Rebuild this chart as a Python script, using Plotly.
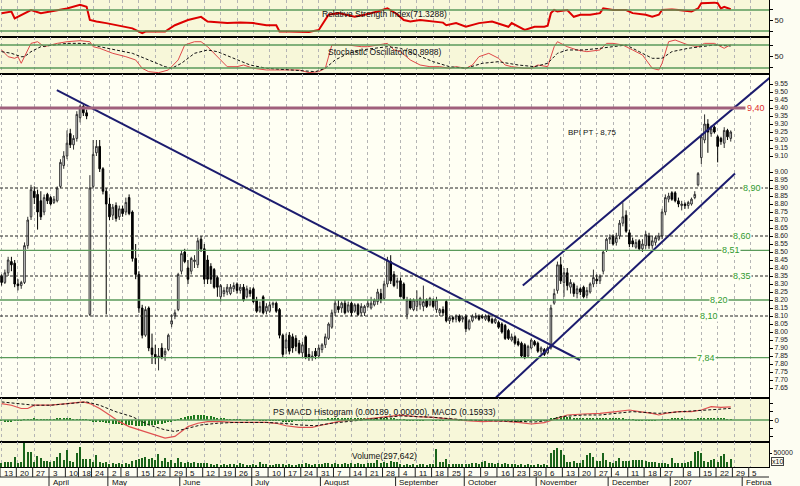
import plotly.graph_objects as go
from plotly.subplots import make_subplots
import pandas as pd

# trading calendar, session 0 = 13 Mar 2006
holidays = ["2006-04-14", "2006-04-17", "2006-05-01", "2006-12-25", "2006-12-26", "2007-01-01"]
days = [d for d in pd.bdate_range("2006-03-13", "2007-02-09") if d.strftime("%Y-%m-%d") not in holidays]
sess_of = {d.strftime("%Y-%m-%d"): i for i, d in enumerate(days)}

week_ticks = ["2006-03-13", "2006-03-20", "2006-03-27", "2006-04-03", "2006-04-10", "2006-04-18", "2006-04-24",
              "2006-05-02", "2006-05-08", "2006-05-15", "2006-05-22", "2006-05-29", "2006-06-05", "2006-06-12",
              "2006-06-19", "2006-06-26", "2006-07-03", "2006-07-10", "2006-07-17", "2006-07-24", "2006-07-31",
              "2006-08-07", "2006-08-14", "2006-08-21", "2006-08-28", "2006-09-04", "2006-09-11", "2006-09-18",
              "2006-09-25", "2006-10-02", "2006-10-09", "2006-10-16", "2006-10-23", "2006-10-30", "2006-11-06",
              "2006-11-13", "2006-11-20", "2006-11-27", "2006-12-04", "2006-12-11", "2006-12-18", "2006-12-27",
              "2007-01-08", "2007-01-15", "2007-01-22", "2007-01-29", "2007-02-05"]
month_starts = ["2006-04-03", "2006-05-02", "2006-06-01", "2006-07-03", "2006-08-01", "2006-09-01",
                "2006-10-02", "2006-11-01", "2006-12-01", "2007-01-02", "2007-02-01"]
month_names = ["April", "May", "June", "July", "August", "September", "October", "November", "December",
               "2007", "Februa"]

# daily prices (BPI)
opens = [8.35, 8.31, 8.37, 8.44, 8.43, 8.30, 8.29, 8.31, 8.54, 8.72,
         8.88, 8.86, 8.82, 8.75, 8.86, 8.84, 8.81, 8.82, 8.91, 9.04,
         9.10, 9.24, 9.17, 9.21, 9.34, 9.41, 9.37, 8.11, 8.91, 9.12,
         9.16, 9.02, 8.88, 8.80, 8.73, 8.79, 8.72, 8.77, 8.75, 8.84,
         8.75, 8.46, 8.36, 8.15, 7.98, 8.15, 7.90, 7.86, 7.84, 7.90,
         7.86, 7.89, 8.05, 8.10, 8.14, 8.38, 8.50, 8.40, 8.38, 8.44,
         8.42, 8.58, 8.52, 8.45, 8.41, 8.39, 8.34, 8.22, 8.24, 8.25,
         8.24, 8.27, 8.30, 8.26, 8.28, 8.22, 8.26, 8.27, 8.20, 8.13,
         8.22, 8.13, 8.13, 8.17, 8.18, 8.14, 7.98, 7.90, 7.98, 7.97,
         7.96, 7.93, 7.87, 7.97, 7.86, 7.84, 7.88, 7.85, 7.89, 7.92,
         7.96, 8.03, 8.12, 8.16, 8.15, 8.18, 8.13, 8.18, 8.13, 8.17,
         8.12, 8.12, 8.16, 8.15, 8.17, 8.19, 8.24, 8.21, 8.30, 8.44,
         8.36, 8.31, 8.32, 8.30, 8.11, 8.20, 8.14, 8.16, 8.17, 8.16,
         8.20, 8.17, 8.20, 8.14, 8.12, 8.14, 8.19, 8.07, 8.09, 8.08,
         8.10, 8.08, 8.10, 8.02, 8.07, 8.09, 8.10, 8.10, 8.08, 8.10,
         8.08, 8.06, 8.06, 8.05, 8.04, 8.01, 7.95, 7.97, 7.94, 7.93,
         7.92, 7.85, 7.90, 7.94, 7.93, 7.88, 7.89, 7.87, 7.90, 8.18,
         8.26, 8.42, 8.31, 8.37, 8.28, 8.30, 8.24, 8.27, 8.28, 8.23,
         8.25, 8.30, 8.33, 8.32, 8.38, 8.51, 8.58, 8.60, 8.56, 8.60,
         8.68, 8.73, 8.62, 8.57, 8.53, 8.57, 8.52, 8.54, 8.60, 8.54,
         8.56, 8.58, 8.60, 8.75, 8.83, 8.87, 8.87, 8.82, 8.79, 8.80,
         8.79, 8.80, 8.84, 8.92, 9.09, 9.20, 9.30, 9.24, 9.28, 9.22,
         9.21, 9.18, 9.26, 9.21]
highs = [8.36, 8.39, 8.47, 8.47, 8.45, 8.33, 8.32, 8.56, 8.72, 8.92,
         8.91, 8.89, 8.88, 8.86, 8.87, 8.85, 8.85, 8.91, 9.08, 9.13,
         9.26, 9.27, 9.23, 9.38, 9.42, 9.42, 9.39, 8.98, 9.20, 9.20,
         9.20, 9.03, 8.90, 8.84, 8.80, 8.81, 8.79, 8.79, 8.84, 8.86,
         8.76, 8.55, 8.38, 8.17, 8.16, 8.16, 7.99, 7.92, 7.90, 7.93,
         7.90, 7.99, 8.11, 8.14, 8.37, 8.51, 8.52, 8.45, 8.47, 8.48,
         8.59, 8.60, 8.55, 8.48, 8.43, 8.40, 8.35, 8.30, 8.28, 8.30,
         8.30, 8.31, 8.31, 8.30, 8.30, 8.29, 8.28, 8.28, 8.22, 8.19,
         8.23, 8.18, 8.19, 8.19, 8.19, 8.15, 7.99, 7.99, 8.00, 7.99,
         7.98, 7.95, 7.94, 7.98, 7.90, 7.88, 7.90, 7.92, 7.93, 7.99,
         8.06, 8.14, 8.20, 8.20, 8.19, 8.20, 8.19, 8.19, 8.18, 8.18,
         8.18, 8.17, 8.20, 8.22, 8.21, 8.27, 8.27, 8.32, 8.47, 8.48,
         8.38, 8.34, 8.34, 8.31, 8.22, 8.21, 8.21, 8.26, 8.22, 8.29,
         8.21, 8.22, 8.21, 8.22, 8.15, 8.16, 8.20, 8.10, 8.10, 8.11,
         8.11, 8.10, 8.11, 8.08, 8.11, 8.12, 8.11, 8.11, 8.11, 8.11,
         8.09, 8.09, 8.07, 8.06, 8.05, 8.02, 7.99, 7.98, 7.96, 7.94,
         7.93, 7.92, 7.96, 7.95, 7.94, 7.91, 7.90, 7.91, 8.17, 8.27,
         8.44, 8.47, 8.40, 8.40, 8.33, 8.31, 8.29, 8.28, 8.29, 8.28,
         8.31, 8.39, 8.36, 8.36, 8.51, 8.59, 8.61, 8.61, 8.62, 8.70,
         8.81, 8.76, 8.64, 8.59, 8.58, 8.58, 8.58, 8.63, 8.62, 8.60,
         8.60, 8.62, 8.77, 8.86, 8.87, 8.88, 8.88, 8.84, 8.82, 8.81,
         8.82, 8.84, 8.88, 9.00, 9.24, 9.36, 9.33, 9.29, 9.29, 9.23,
         9.22, 9.28, 9.27, 9.26]
lows = [8.29, 8.30, 8.35, 8.38, 8.28, 8.26, 8.27, 8.30, 8.52, 8.70,
        8.80, 8.64, 8.70, 8.73, 8.80, 8.79, 8.80, 8.81, 8.90, 9.02,
        9.08, 9.15, 9.14, 9.19, 9.31, 9.35, 9.33, 8.10, 8.90, 9.10,
        9.00, 8.86, 8.11, 8.70, 8.70, 8.69, 8.70, 8.72, 8.73, 8.73,
        8.44, 8.33, 8.12, 7.96, 7.97, 7.88, 7.80, 7.80, 7.76, 7.83,
        7.82, 7.88, 8.03, 8.08, 8.13, 8.36, 8.43, 8.30, 8.36, 8.40,
        8.40, 8.50, 8.30, 8.30, 8.30, 8.27, 8.22, 8.19, 8.22, 8.23,
        8.23, 8.25, 8.24, 8.24, 8.19, 8.21, 8.22, 8.18, 8.12, 8.12,
        8.11, 8.11, 8.12, 8.15, 8.12, 7.96, 7.84, 7.86, 7.86, 7.87,
        7.88, 7.86, 7.84, 7.83, 7.82, 7.82, 7.83, 7.84, 7.87, 7.90,
        7.95, 8.02, 8.10, 8.12, 8.12, 8.11, 8.12, 8.10, 8.12, 8.10,
        8.10, 8.10, 8.15, 8.14, 8.16, 8.17, 8.18, 8.20, 8.28, 8.30,
        8.28, 8.27, 8.22, 8.20, 8.08, 8.14, 8.13, 8.13, 8.14, 8.13,
        8.15, 8.16, 8.15, 8.12, 8.10, 8.10, 8.06, 8.05, 8.06, 8.06,
        8.06, 8.06, 8.00, 8.01, 8.06, 8.08, 8.07, 8.08, 8.07, 8.06,
        8.05, 8.05, 8.02, 7.99, 7.95, 7.95, 7.94, 7.92, 7.91, 7.84,
        7.83, 7.84, 7.89, 7.91, 7.87, 7.86, 7.85, 7.86, 7.89, 8.17,
        8.24, 8.30, 8.22, 8.26, 8.24, 8.22, 8.21, 8.23, 8.21, 8.21,
        8.24, 8.28, 8.30, 8.30, 8.36, 8.50, 8.55, 8.54, 8.54, 8.58,
        8.66, 8.62, 8.53, 8.53, 8.52, 8.51, 8.50, 8.52, 8.52, 8.52,
        8.54, 8.57, 8.58, 8.73, 8.81, 8.82, 8.81, 8.78, 8.76, 8.77,
        8.77, 8.79, 8.83, 8.91, 9.05, 9.18, 9.12, 9.22, 9.24, 9.06,
        9.17, 9.15, 9.20, 9.19]
closes = [8.31, 8.37, 8.45, 8.42, 8.30, 8.29, 8.31, 8.54, 8.70, 8.89,
          8.84, 8.75, 8.72, 8.84, 8.82, 8.80, 8.83, 8.90, 9.06, 9.10,
          9.18, 9.17, 9.21, 9.36, 9.41, 9.37, 9.35, 8.90, 9.11, 9.16,
          9.02, 8.88, 8.80, 8.72, 8.78, 8.71, 8.77, 8.74, 8.81, 8.74,
          8.46, 8.36, 8.15, 7.98, 8.14, 7.90, 7.86, 7.84, 7.85, 7.84,
          7.88, 7.98, 8.07, 8.12, 8.36, 8.49, 8.44, 8.33, 8.46, 8.45,
          8.57, 8.52, 8.33, 8.33, 8.33, 8.28, 8.28, 8.29, 8.26, 8.28,
          8.28, 8.29, 8.26, 8.28, 8.20, 8.27, 8.24, 8.19, 8.13, 8.16,
          8.12, 8.16, 8.17, 8.18, 8.13, 7.98, 7.86, 7.95, 7.88, 7.90,
          7.91, 7.87, 7.92, 7.84, 7.84, 7.85, 7.85, 7.90, 7.92, 7.97,
          8.05, 8.12, 8.18, 8.14, 8.18, 8.12, 8.17, 8.12, 8.17, 8.11,
          8.16, 8.16, 8.18, 8.18, 8.20, 8.25, 8.20, 8.30, 8.45, 8.32,
          8.29, 8.32, 8.22, 8.21, 8.20, 8.15, 8.20, 8.20, 8.21, 8.19,
          8.16, 8.21, 8.16, 8.20, 8.14, 8.12, 8.07, 8.09, 8.08, 8.10,
          8.07, 8.09, 8.02, 8.07, 8.10, 8.10, 8.08, 8.09, 8.10, 8.07,
          8.06, 8.08, 8.03, 8.00, 7.96, 7.96, 7.97, 7.93, 7.92, 7.85,
          7.84, 7.91, 7.95, 7.92, 7.88, 7.90, 7.86, 7.90, 8.15, 8.24,
          8.42, 8.32, 8.37, 8.29, 8.31, 8.24, 8.27, 8.25, 8.22, 8.26,
          8.30, 8.34, 8.32, 8.35, 8.50, 8.58, 8.59, 8.55, 8.59, 8.68,
          8.72, 8.63, 8.55, 8.55, 8.56, 8.52, 8.55, 8.61, 8.54, 8.57,
          8.59, 8.60, 8.75, 8.84, 8.85, 8.83, 8.82, 8.80, 8.80, 8.79,
          8.81, 8.83, 8.86, 8.99, 9.22, 9.30, 9.25, 9.27, 9.25, 9.16,
          9.19, 9.26, 9.22, 9.25]

# volume, thousands of shares
volume_k = [140, 180, 170, 180, 360, 150, 180, 850, 540, 530,
            190, 400, 320, 210, 200, 190, 200, 360, 500, 250,
            600, 220, 180, 490, 720, 290, 280, 300, 180, 420,
            170, 150, 170, 120, 140, 110, 130, 120, 140, 120,
            210, 250, 280, 320, 350, 290, 330, 250, 460, 220,
            310, 190, 240, 150, 320, 170, 140, 180, 150, 170,
            130, 140, 160, 130, 90, 80, 100, 70, 90, 80,
            100, 90, 80, 140, 90, 80, 70, 100, 80, 170,
            90, 100, 80, 70, 90, 110, 100, 80, 90, 70,
            80, 100, 90, 140, 90, 80, 100, 110, 120, 140,
            130, 110, 150, 120, 110, 140, 100, 130, 120, 150,
            110, 120, 130, 140, 160, 250, 130, 180, 150, 210,
            170, 180, 100, 80, 90, 70, 100, 80, 110, 90,
            80, 100, 90, 640, 180, 170, 280, 110, 100, 120,
            100, 110, 90, 100, 130, 150, 120, 170, 210, 140,
            160, 120, 130, 110, 140, 100, 120, 90, 80, 100,
            80, 90, 70, 80, 90, 70, 100, 80, 500, 610,
            680, 600, 430, 180, 170, 200, 160, 150, 250, 430,
            500, 360, 200, 200, 500, 250, 180, 140, 200, 320,
            210, 230, 200, 250, 240, 260, 250, 230, 180, 190,
            170, 160, 140, 150, 100, 320, 150, 140, 150, 160,
            180, 200, 540, 570, 510, 220, 180, 250, 290, 170,
            390, 460, 180, 298]

macd_hist = [-0.010, -0.014, -0.018, -0.016, -0.012, -0.008, -0.004,
             0.004, 0.008, 0.012, 0.014, 0.012, 0.010, 0.008, 0.008, 0.010, 0.012,
             0.014, 0.016, 0.018, 0.016, 0.014, 0.012, 0.012, 0.010, 0.008, 0.006,
             -0.010, -0.014, -0.018, -0.022, -0.028, -0.034, -0.040, -0.044, -0.048,
             -0.052, -0.056, -0.060, -0.062, -0.066, -0.070, -0.072, -0.070, -0.068, -0.066,
             -0.064, -0.060, -0.054, -0.048, -0.040, -0.030, -0.020, -0.008,
             0.010, 0.024, 0.036, 0.044, 0.050, 0.056, 0.060, 0.062, 0.058, 0.052,
             0.044, 0.036, 0.028, 0.020, 0.014, 0.010, 0.006,
             0.004, 0.002, 0.002, 0.000, -0.002, 0.000, 0.002, 0.000, -0.002, -0.004,
             -0.006, -0.008, -0.008, -0.010, -0.012, -0.014, -0.016, -0.016, -0.014, -0.012,
             -0.010, -0.008, -0.006, -0.004, -0.002, 0.000, 0.004, 0.008, 0.012,
             0.016, 0.020, 0.022, 0.024, 0.024, 0.022, 0.020, 0.018, 0.018, 0.016,
             0.016, 0.014, 0.014, 0.016, 0.018, 0.020, 0.022, 0.024, 0.022, 0.018,
             0.014, 0.010,
             0.006, 0.002, -0.002, -0.004, -0.006, -0.006, -0.004, -0.002, 0.000, 0.000,
             -0.002, -0.004, -0.004, -0.002, 0.000, 0.002, 0.002, 0.000, -0.002, -0.004,
             -0.006, -0.008, -0.008, -0.006, -0.004, -0.002, 0.000, -0.002, -0.004, -0.006,
             -0.008, -0.010, -0.012, -0.014, -0.016, -0.018, -0.018, -0.016, -0.014, -0.012,
             -0.010, -0.010, -0.008, -0.006, -0.004, -0.002,
             0.016, 0.030, 0.040, 0.044, 0.042, 0.038, 0.034, 0.030, 0.026, 0.022,
             0.020, 0.018, 0.016, 0.016, 0.018, 0.020, 0.022, 0.024, 0.022, 0.020,
             0.018, 0.016, 0.014, 0.010, 0.006, 0.002, -0.002, -0.006, -0.008, -0.008,
             -0.006, -0.004, -0.002, 0.000, 0.004, 0.008, 0.012, 0.014, 0.016, 0.016,
             0.014, 0.012, 0.010, 0.010, 0.012, 0.016, 0.022, 0.028, 0.030, 0.028,
             0.024, 0.020, 0.016, 0.014, 0.012, 0.012]

# indicator lines (session number, value)
rsi_sess = [0, 3, 4, 6, 9, 12, 15, 20, 24, 26, 27, 29, 32, 35, 38, 40, 43, 44, 47, 50,
            53, 57, 61, 63, 69, 73, 77, 81, 84, 85, 88, 91, 94, 97, 100, 103, 108, 111, 115, 118,
            121, 123, 125, 128, 132, 135, 136, 139, 142, 146, 150, 155, 156, 158, 160, 163, 166, 167, 168, 169,
            170, 173, 175, 177, 180, 183, 184, 187, 191, 193, 197, 199, 201, 202, 205, 207, 211, 213, 214, 218,
            219, 220, 221, 223]
rsi_val = [64, 67, 54, 61, 70, 64, 67, 73, 80, 76, 51, 48, 45, 41, 38, 35, 26, 29, 29, 29,
           41, 51, 57, 48, 45, 46, 45, 41, 41, 29, 29, 29, 28, 32, 61, 64, 57, 61, 67, 73,
           62, 51, 48, 51, 48, 46, 41, 45, 38, 45, 48, 38, 45, 38, 32, 38, 38, 40, 64, 70,
           67, 70, 57, 61, 61, 64, 73, 70, 70, 64, 61, 57, 61, 70, 71, 70, 67, 73, 83, 84,
           83, 73, 76, 71.3]

stk_sess = [0, 2, 4, 5, 6, 7, 9, 11, 13, 15, 17, 20, 24, 27, 28, 30, 34, 38, 41, 43,
            45, 48, 51, 54, 56, 59, 61, 63, 65, 69, 72, 74, 77, 81, 84, 87, 91, 94, 97, 99,
            101, 106, 110, 112, 115, 118, 120, 122, 125, 128, 131, 134, 137, 139, 142, 144, 146, 149, 152, 154,
            156, 160, 162, 164, 167, 169, 170, 173, 176, 179, 183, 185, 187, 190, 193, 196, 199, 201, 202, 204,
            206, 210, 213, 215, 218, 221, 223]
stk_k = [67, 49.5, 45.3, 49.5, 32.2, 49.5, 84.3, 88.6, 75.6, 80, 84.3, 88.6, 91.3, 88.6, 75.6, 71.4, 58.3, 49.5, 40.9, 19.2,
         10.4, 7.8, 14.8, 40.9, 80, 88.6, 88.6, 75.6, 58.3, 23.4, 23.4, 27.8, 19.2, 14.8, 14.8, 14.8, 14.8, 7.8, 10.4, 19.2,
         80, 80, 75.6, 75.6, 80, 84.3, 67, 62.6, 40.9, 27.8, 23.4, 23.4, 19.2, 23.4, 19.2, 27.8, 49.5, 58.3, 45.3, 27.8,
         23.4, 19.2, 19.2, 27.8, 23.4, 75.6, 88.6, 75.6, 67, 62.6, 67, 84.3, 84.3, 80, 67, 53.9, 19.2, 14.8, 32.2, 88.6,
         93, 80, 75.6, 84.3, 84.3, 71.4, 80.9]
std_sess = [0, 3, 6, 7, 9, 12, 16, 20, 24, 27, 30, 35, 40, 45, 50, 52, 55, 59, 63, 66,
            71, 76, 81, 86, 91, 96, 99, 102, 106, 110, 114, 118, 122, 127, 132, 137, 142, 147, 152, 158,
            163, 167, 170, 173, 178, 183, 188, 191, 195, 199, 202, 205, 210, 214, 218, 223]
stk_d = [62.6, 58.3, 49.5, 49.5, 62.6, 75.6, 80, 84.3, 84.3, 82.6, 75.6, 67, 58.3, 40.9, 23.4, 19.2, 32.2, 58.3, 67, 62.6,
         45.3, 27.8, 19.2, 16.5, 13, 10.4, 19.2, 40.9, 58.3, 67, 71.4, 75.6, 71.4, 53.9, 36.5, 23.4, 19.2, 32.2, 36.5, 27.8,
         23.4, 32.2, 58.3, 67, 67, 71.4, 75.6, 80, 62.6, 45.3, 45.3, 62.6, 71.4, 75.6, 80, 77.4]

macd_sess = [0, 3, 6, 8, 10, 15, 20, 25, 27, 30, 33, 36, 39, 42, 45, 48, 50, 53, 55, 57,
             60, 63, 67, 71, 77, 81, 84, 87, 91, 95, 97, 101, 104, 110, 114, 118, 122, 127, 132, 137,
             142, 147, 152, 158, 162, 166, 168, 170, 173, 178, 183, 188, 192, 195, 199, 201, 203, 207, 211, 214,
             217, 220, 223]
macd_val = [0.20, 0.18, 0.14, 0.14, 0.18, 0.18, 0.20, 0.22, 0.20, 0.14, 0.06, -0.02, -0.08, -0.12, -0.16, -0.20, -0.22, -0.20, -0.14, -0.08,
            -0.04, -0.02, -0.02, -0.03, -0.03, -0.03, -0.04, -0.07, -0.09, -0.09, -0.07, -0.04, -0.01, 0.006, 0.02, 0.04, 0.06, 0.04, 0.033, 0.008,
            -0.008, -0.02, -0.012, -0.028, -0.049, -0.033, -0.008, 0.02, 0.061, 0.073, 0.081, 0.102, 0.122, 0.102, 0.081, 0.061, 0.081, 0.102, 0.102, 0.122,
            0.163, 0.155, 0.159]
sig_sess = [0, 5, 10, 15, 20, 26, 30, 35, 40, 45, 50, 53, 57, 61, 66, 71, 81, 86, 91, 96,
            101, 107, 112, 122, 132, 142, 152, 163, 167, 171, 178, 183, 193, 201, 208, 214, 219, 223]
sig_val = [0.22, 0.20, 0.18, 0.18, 0.20, 0.22, 0.18, 0.10, 0.04, -0.06, -0.12, -0.14, -0.10, -0.06, -0.04, -0.03, -0.03, -0.04, -0.06, -0.07,
           -0.04, -0.01, 0.008, 0.05, 0.033, 0.0, -0.008, -0.024, -0.008, 0.04, 0.061, 0.061, 0.102, 0.081, 0.102, 0.114, 0.130, 0.142]

# drawn trend lines (session, price)
down_sess, down_px = [16.9, 176.9], [9.512, 7.825]
chan_hi_sess, chan_hi_px = [159.4, 235.0], [8.29, 9.59]
chan_lo_sess, chan_lo_px = [151.2, 224.3], [7.59, 8.99]

# horizontal levels
levels = [9.40, 8.90, 8.60, 8.51, 8.35, 8.20, 8.10, 7.84]
level_text = ["9,40", "8,90", "8,60", "8,51", "8,35", "8,20", "8,10", "7,84"]
level_kind = ["top", "dash", "dash", "green", "dash", "green", "dash", "green"]

price_ticks = [7.65, 7.70, 7.75, 7.80, 7.85, 7.90, 7.95, 8.00, 8.05, 8.10, 8.15, 8.20, 8.25, 8.30, 8.35, 8.40,
               8.45, 8.50, 8.55, 8.60, 8.65, 8.70, 8.75, 8.80, 8.85, 8.90, 8.95, 9.00, 9.10, 9.15, 9.20, 9.25,
               9.30, 9.35, 9.40, 9.45, 9.50, 9.55]

for arr in (opens, highs, lows, closes, volume_k, macd_hist):
    assert len(arr) == 224, len(arr)

sess = list(range(len(closes)))
week_sess = [sess_of[d] for d in week_ticks]

GREEN = "#5a9a5a"
BG_IND = "#f7f7d9"
BG_MAIN = "#fffff3"
FONT = "Liberation Sans, Arial, sans-serif"

fig = make_subplots(rows=5, cols=1, shared_xaxes=True, vertical_spacing=0,
                    row_heights=[37, 37, 324, 44, 25])

# RSI
fig.add_trace(go.Scatter(x=rsi_sess, y=rsi_val, mode="lines", line=dict(color="#dd0000", width=2)), row=1, col=1)
# Stochastic
fig.add_trace(go.Scatter(x=stk_sess, y=stk_k, mode="lines", line=dict(color="#e04848", width=1)), row=2, col=1)
fig.add_trace(go.Scatter(x=std_sess, y=stk_d, mode="lines", line=dict(color="#111111", width=1, dash="3px,2px")), row=2, col=1)
# price
fig.add_trace(go.Candlestick(x=sess, open=opens, high=highs, low=lows, close=closes, whiskerwidth=0,
                             increasing=dict(line=dict(color="#303030", width=1), fillcolor="#ffffff"),
                             decreasing=dict(line=dict(color="#000000", width=1), fillcolor="#000000")),
              row=3, col=1)
for xs, ys in ((down_sess, down_px), (chan_hi_sess, chan_hi_px), (chan_lo_sess, chan_lo_px)):
    fig.add_trace(go.Scatter(x=xs, y=ys, mode="lines", line=dict(color="#1c1c6e", width=2)), row=3, col=1)
# MACD
fig.add_trace(go.Bar(x=sess, y=macd_hist, width=0.4, marker=dict(color="#1f7a1f", line=dict(width=0))), row=4, col=1)
fig.add_trace(go.Scatter(x=macd_sess, y=macd_val, mode="lines", line=dict(color="#e05050", width=1.2)), row=4, col=1)
fig.add_trace(go.Scatter(x=sig_sess, y=sig_val, mode="lines", line=dict(color="#111111", width=1, dash="3px,2px")), row=4, col=1)
# volume
fig.add_trace(go.Bar(x=sess, y=volume_k, width=0.4, marker=dict(color="#1a641a", line=dict(width=0))), row=5, col=1)

# reference lines in indicator panels
for r, vals in ((1, [70, 30]), (2, [80, 20]), (4, [0])):
    for v in vals:
        fig.add_hline(y=v, line=dict(color=GREEN, width=1.5), row=r, col=1)

# price levels
for v, t, k, lx in zip(levels, level_text, level_kind, [230.6, 229.6, 226.3, 223.0, 226.3, 219.4, 216.3, 215.3]):
    if k == "top":
        fig.add_shape(type="line", x0=-1, x1=227.5, y0=v, y1=v, xref="x3", yref="y3",
                      line=dict(color="#a0607c", width=3))
        col = "#e03030"
    elif k == "green":
        fig.add_hline(y=v, line=dict(color=GREEN, width=1.3), row=3, col=1)
        col = "#2f9a2f"
    else:
        fig.add_hline(y=v, line=dict(color="#222222", width=1, dash="3px,2px"), row=3, col=1)
        col = "#2f9a2f"
    fig.add_annotation(x=lx, y=v, xref="x3", yref="y3", text=t, showarrow=False,
                       font=dict(size=9, color=col, family=FONT), bgcolor=BG_MAIN, borderpad=0)

fig.add_annotation(x=172.5, y=9.245, xref="x3", yref="y3", text="BPI PT - 8,75", showarrow=False,
                   xanchor="left", font=dict(size=8, color="#111111", family=FONT))

# panel backgrounds
for r in (1, 2, 4, 5):
    sfx = "" if r == 1 else str(r)
    fig.add_shape(type="rect", xref=f"x{sfx} domain", yref=f"y{sfx} domain", x0=0, x1=1, y0=0, y1=1,
                  fillcolor=BG_IND, line=dict(width=0), layer="below")

# panel titles
titles = [(1, "Relative Strength Index(71.3288)", 0.80), (2, "Stochastic Oscillator(80.8988)", 0.78),
          (4, "PS MACD Histogram (0.00189, 0.00000), MACD (0.15933)", 0.84), (5, "Volume(297,642)", 0.74)]
for r, t, yy in titles:
    sfx = "" if r == 1 else str(r)
    fig.add_annotation(x=0.5, y=yy, xref=f"x{sfx} domain", yref=f"y{sfx} domain", text=t, showarrow=False,
                       font=dict(size=8.5, color="#111111", family=FONT))

# bottom time scale
H = 467.0
for d, s in zip(week_ticks, week_sess):
    fig.add_annotation(x=s, y=0, xref="x5", yref="paper", text=str(int(d[-2:])), showarrow=False,
                       xanchor="left", yanchor="top", yshift=0,
                       font=dict(size=8, color="#111111", family=FONT))
    fig.add_shape(type="line", xref="x5", yref="paper", x0=s - 0.5, x1=s - 0.5, y0=0, y1=-10 / H,
                  line=dict(color="#222222", width=1))
for d, name in zip(month_starts, month_names):
    s = sess_of[d]
    fig.add_annotation(x=s, y=-9.5 / H, xref="x5", yref="paper", text=name, showarrow=False,
                       xanchor="left", yanchor="top", yshift=0,
                       font=dict(size=8, color="#111111", family=FONT))
    fig.add_shape(type="line", xref="x5", yref="paper", x0=s - 0.5, x1=s - 0.5, y0=-10 / H, y1=-19 / H,
                  line=dict(color="#222222", width=1))
fig.add_shape(type="line", xref="paper", yref="paper", x0=0, x1=1, y0=-10 / H, y1=-10 / H,
              line=dict(color="#222222", width=1))
fig.add_annotation(x=1.0, y=0, xref="paper", yref="paper", text="x10", showarrow=False,
                   xanchor="left", yanchor="bottom", xshift=2, yshift=1,
                   font=dict(size=7, color="#111111", family=FONT), bgcolor="#fdfdf2",
                   bordercolor="#444444", borderwidth=1, borderpad=0)

fig.update_xaxes(range=[-0.49, 234.7], tickvals=week_sess, showticklabels=False, ticks="",
                 showgrid=True, gridcolor="#b4b4b4", griddash="dot", gridwidth=1, zeroline=False,
                 showline=True, mirror=True, linecolor="#000000", linewidth=1, rangeslider_visible=False)
fig.update_yaxes(side="right", showgrid=False, zeroline=False, showline=True, linecolor="#000000",
                 linewidth=1, ticks="outside", ticklen=3, tickcolor="#000000",
                 tickfont=dict(size=8, color="#222222", family=FONT))
fig.update_yaxes(range=[18.6, 89], tickvals=[30, 50, 70], ticktext=["", "50", ""], row=1, col=1)
fig.update_yaxes(range=[4.3, 100.9], tickvals=[20, 50, 80], ticktext=["", "50", ""], row=2, col=1)
fig.update_yaxes(range=[7.5875, 9.6125], tickvals=price_ticks, ticktext=[f"{v:.2f}" for v in price_ticks],
                 tickfont=dict(size=7), row=3, col=1)
fig.update_yaxes(range=[-0.268, 0.268], tickvals=[-0.2, -0.1, 0, 0.1, 0.2], ticktext=["", "", "0", "", ""], row=4, col=1)
fig.update_yaxes(range=[0, 893], tickvals=[500], ticktext=["50000"], ticklen=2,
                 tickfont=dict(size=7), row=5, col=1)

fig.update_layout(width=800, height=486, margin=dict(l=0, r=31, t=0, b=19), showlegend=False,
                  paper_bgcolor="#fdfdf2", plot_bgcolor=BG_MAIN, bargap=0,
                  font=dict(family=FONT, size=9, color="#111111"), hovermode=False)

fig.write_html("out.html", config={"displayModeBar": False},
               post_script="document.body.style.margin='0px';")
